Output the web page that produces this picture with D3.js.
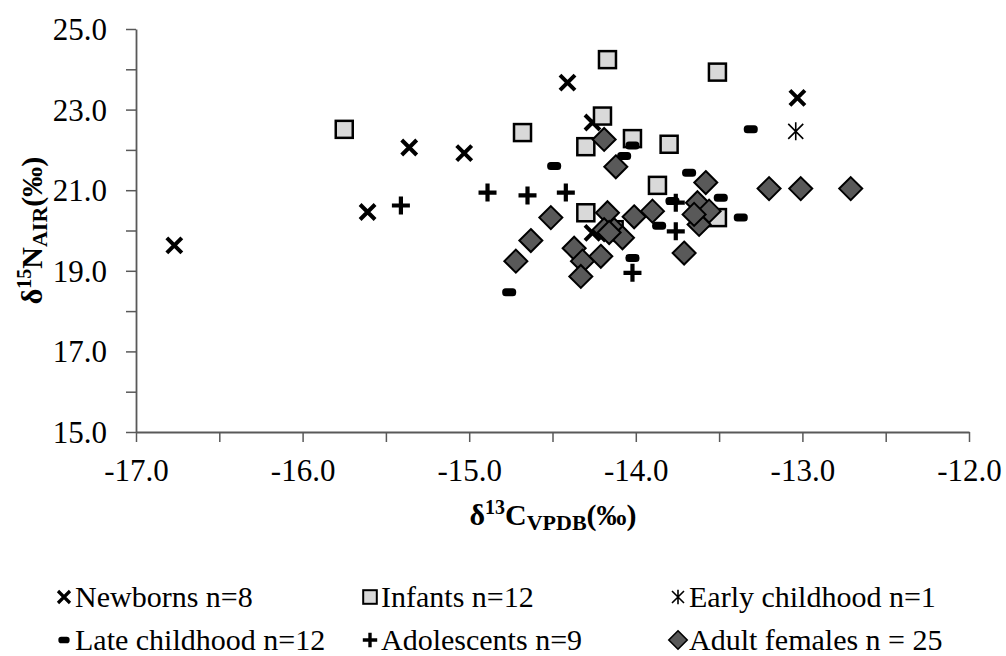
<!DOCTYPE html>
<html>
<head>
<meta charset="utf-8">
<script src="https://cdn.jsdelivr.net/npm/d3@7"></script>
<style>
  body { margin: 0; background: #fff; }
</style>
</head>
<body>
<div id="chart"></div>
<script>
// chart size and plot box
const WIDTH = 1006;
const HEIGHT = 656;
const PLOT = { left: 136, right: 969, top: 29, bottom: 432 };
const FONT = "'Liberation Serif', 'DejaVu Serif', serif";

// data: [d13C, d15N] pairs for each group
const newborns = [[-16.77, 19.63], [-15.61, 20.46], [-15.36, 22.06], [-15.03, 21.92],
  [-14.41, 23.67], [-14.26, 22.68], [-14.26, 19.94], [-13.03, 23.29]];
const infants = [[-15.75, 22.51], [-14.17, 24.24], [-13.51, 23.93], [-14.20, 22.84],
  [-14.68, 22.43], [-14.30, 22.08], [-14.02, 22.28], [-13.80, 22.14],
  [-13.87, 21.12], [-14.30, 20.44], [-13.51, 20.32], [-14.13, 20.02]];
const earlyChildhood = [[-13.04, 22.46]];
const lateChildhood = [[-14.02, 22.11], [-14.07, 21.85], [-14.49, 21.60], [-13.31, 22.51],
  [-13.68, 21.43], [-13.78, 20.73], [-13.49, 20.81], [-13.37, 20.32],
  [-13.86, 20.12], [-14.02, 19.32], [-14.76, 18.47], [-14.19, 20.02]];
const adolescents = [[-15.41, 20.62], [-14.89, 20.94], [-14.65, 20.87], [-14.42, 20.94],
  [-13.76, 20.69], [-13.76, 19.98], [-14.02, 18.95], [-14.13, 20.02], [-13.62, 20.15]];
const adultFemales = [[-14.19, 22.26], [-14.12, 21.58], [-13.58, 21.19], [-13.20, 21.04],
  [-13.01, 21.04], [-12.71, 21.04], [-14.51, 20.32], [-14.63, 19.75], [-14.72, 19.24],
  [-14.37, 19.56], [-14.32, 19.24], [-14.21, 19.36], [-14.33, 18.86], [-14.17, 20.44],
  [-14.13, 20.02], [-14.08, 19.82], [-14.19, 20.02], [-14.01, 20.34], [-13.90, 20.48],
  [-13.63, 20.69], [-13.56, 20.48], [-13.62, 20.15], [-13.71, 19.44], [-13.65, 20.40],
  [-14.16, 19.95]];

const seriesNames = ["Newborns n=8", "Infants n=12", "Early childhood n=1",
  "Late childhood n=12", "Adolescents n=9", "Adult females n = 25"];
const seriesData = [newborns, infants, earlyChildhood, lateChildhood, adolescents, adultFemales];
const seriesShapes = ["x", "square", "star", "dash", "plus", "diamond"];

const xTicks = d3.range(-17, -11.9, 0.5);
const yTicks = d3.range(15, 25.1, 1);

const svg = d3.select("#chart").append("svg")
  .attr("width", WIDTH)
  .attr("height", HEIGHT)
  .attr("font-family", FONT);

const x = d3.scaleLinear().domain([-17, -12]).range([PLOT.left, PLOT.right]);
const y = d3.scaleLinear().domain([15, 25]).range([PLOT.bottom, PLOT.top]);

const AXIS_COLOR = "#595959";

// x axis
const gx = svg.append("g")
  .attr("transform", "translate(0," + PLOT.bottom + ")")
  .call(d3.axisBottom(x)
    .tickValues(xTicks)
    .tickSize(10)
    .tickSizeOuter(0)
    .tickFormat(d => Number.isInteger(d) ? d3.format(".1f")(d).replace("−", "-") : ""));
gx.attr("font-family", FONT).attr("font-size", null);
gx.select(".domain").attr("stroke", AXIS_COLOR).attr("stroke-width", 1.8);
gx.selectAll(".tick line").attr("stroke", AXIS_COLOR).attr("stroke-width", 1.5);
gx.selectAll(".tick text")
  .attr("y", 49).attr("dy", 0)
  .style("font-family", FONT)
  .style("font-size", "31px");

// y axis
const gy = svg.append("g")
  .attr("transform", "translate(" + PLOT.left + ",0)")
  .call(d3.axisLeft(y)
    .tickValues(yTicks)
    .tickSize(10)
    .tickSizeOuter(0)
    .tickFormat(d => d % 2 === 1 ? d3.format(".1f")(d) : ""));
gy.attr("font-family", FONT).attr("font-size", null);
gy.select(".domain").attr("stroke", AXIS_COLOR).attr("stroke-width", 1.8);
gy.selectAll(".tick line").attr("stroke", AXIS_COLOR).attr("stroke-width", 1.5);
gy.selectAll(".tick text")
  .attr("x", -29).attr("dy", "0.34em")
  .style("font-family", FONT)
  .style("font-size", "31px");

// axis titles
const xTitle = svg.append("text")
  .attr("x", 553)
  .attr("y", 525)
  .attr("text-anchor", "middle")
  .style("font-family", FONT)
  .style("font-size", "30px")
  .style("font-weight", "bold");
xTitle.append("tspan").text("δ");
xTitle.append("tspan").attr("dy", -11).style("font-size", "20px").text("13");
xTitle.append("tspan").attr("dy", 11).text("C");
xTitle.append("tspan").attr("dy", 5).style("font-size", "22px").text("VPDB");
xTitle.append("tspan").attr("dy", -5).text("(‰)");

const yTitle = svg.append("text")
  .attr("transform", "translate(42," + ((PLOT.top + PLOT.bottom) / 2) + ") rotate(-90)")
  .attr("text-anchor", "middle")
  .style("font-family", FONT)
  .style("font-size", "30px")
  .style("font-weight", "bold");
yTitle.append("tspan").text("δ");
yTitle.append("tspan").attr("dy", -11).style("font-size", "20px").text("15");
yTitle.append("tspan").attr("dy", 11).text("N");
yTitle.append("tspan").attr("dy", 5).style("font-size", "22px").text("AIR");
yTitle.append("tspan").attr("dy", -5).text("(‰)");

// draws one marker into g, k scales the size (legend markers are smaller)
function drawMarker(g, shape, k) {
  if (shape === "x") {
    const s = 7.5 * k;
    g.append("path")
      .attr("d", `M${-s},${-s}L${s},${s}M${-s},${s}L${s},${-s}`)
      .attr("stroke", "#000").attr("stroke-width", 4 * k).attr("fill", "none");
  } else if (shape === "square") {
    const s = 8.5 * k;
    g.append("rect")
      .attr("x", -s).attr("y", -s).attr("width", 2 * s).attr("height", 2 * s)
      .attr("fill", "#d9d9d9").attr("stroke", "#000").attr("stroke-width", 2.5 * k);
  } else if (shape === "star") {
    const s = 7.5 * k;
    g.append("path")
      .attr("d", `M${-s},${-s}L${s},${s}M${-s},${s}L${s},${-s}M0,${-s * 1.2}L0,${s * 1.2}`)
      .attr("stroke", "#000").attr("stroke-width", 1.6).attr("fill", "none");
  } else if (shape === "dash") {
    g.append("rect")
      .attr("x", -7 * k).attr("y", -4 * k).attr("width", 14 * k).attr("height", 8 * k)
      .attr("rx", 3.5 * k).attr("fill", "#000");
  } else if (shape === "plus") {
    const s = 9 * k;
    g.append("path")
      .attr("d", `M${-s},0L${s},0M0,${-s}L0,${s}`)
      .attr("stroke", "#000").attr("stroke-width", 4.2 * k).attr("fill", "none");
  } else if (shape === "diamond") {
    const s = 11.5 * k;
    g.append("path")
      .attr("d", `M0,${-s}L${s},0L0,${s}L${-s},0Z`)
      .attr("fill", "#595959").attr("stroke", "#000").attr("stroke-width", 2 * k);
  }
}

// points, drawn series by series
seriesData.forEach((data, i) => {
  const layer = svg.append("g").attr("class", "series-" + i);
  data.forEach(d => {
    const g = layer.append("g")
      .attr("transform", "translate(" + x(d[0]) + "," + y(d[1]) + ")");
    drawMarker(g, seriesShapes[i], 1);
  });
});

// legend: two rows of three
const legendX = [64, 370, 678];
const legendY = [597, 640];
seriesNames.forEach((name, i) => {
  const g = svg.append("g")
    .attr("transform", "translate(" + legendX[i % 3] + "," + legendY[Math.floor(i / 3)] + ")");
  drawMarker(g, seriesShapes[i], 0.8);
  g.append("text")
    .attr("x", 11)
    .attr("dy", "0.34em")
    .style("font-family", FONT)
    .style("font-size", "30px")
    .text(name);
});
</script>
</body>
</html>
